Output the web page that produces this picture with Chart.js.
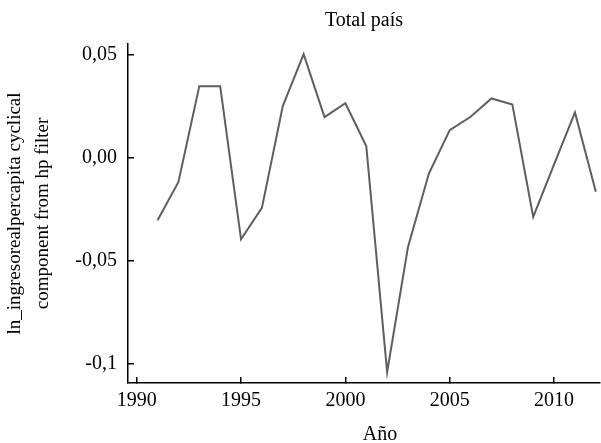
<!DOCTYPE html>
<html>
<head>
<meta charset="utf-8">
<script src="https://cdn.jsdelivr.net/npm/chart.js@4/dist/chart.umd.min.js"></script>
<style>
  html, body { margin: 0; padding: 0; background: #fff; }
  #c { display: block; }
</style>
</head>
<body>
<canvas id="c" width="601" height="443"></canvas>
<script>
const years = [1991, 1992, 1993, 1994, 1995, 1996, 1997, 1998, 1999, 2000, 2001,
               2002, 2003, 2004, 2005, 2006, 2007, 2008, 2009, 2010, 2011, 2012];
const cyclical = [-0.0304, -0.0118, 0.0348, 0.0348, -0.0397, -0.0244, 0.0251, 0.0504,
                  0.0197, 0.0265, 0.0057, -0.1043, -0.0434, -0.0077, 0.0134, 0.0199,
                  0.0288, 0.0259, -0.0288, -0.0033, 0.0220, -0.0166];
const xTickValues = [1990, 1995, 2000, 2005, 2010];
const yTickValues = [-0.1, -0.05, 0, 0.05];
const yTickLabels = ['-0,1', '-0,05', '0,00', '0,05'];
const chartTitle = 'Total país';
const xTitle = 'Año';
const yTitle = ['ln_ingresorealpercapita cyclical', 'component from hp filter'];

const SERIF = "'Liberation Serif', 'Times New Roman', serif";

const xTitlePlugin = {
  id: 'xTitlePlugin',
  afterDraw(chart) {
    const ctx = chart.ctx;
    const a = chart.chartArea;
    ctx.save();
    ctx.font = '20px ' + SERIF;
    ctx.fillStyle = '#000';
    ctx.textAlign = 'center';
    ctx.textBaseline = 'alphabetic';
    ctx.fillText(xTitle, (a.left + a.right) / 2 + 16, 440);
    ctx.restore();
  }
};

new Chart(document.getElementById('c'), {
  type: 'line',
  data: {
    datasets: [{
      data: years.map((y, i) => ({ x: y, y: cyclical[i] })),
      borderColor: '#5e5e5e',
      borderWidth: 2,
      pointRadius: 0,
      tension: 0,
      fill: false
    }]
  },
  options: {
    responsive: false,
    animation: false,
    layout: { padding: { left: 0, right: 1, top: 0, bottom: 0 } },
    plugins: {
      legend: { display: false },
      tooltip: { enabled: false },
      title: {
        display: true,
        text: chartTitle,
        fullSize: false,
        color: '#000',
        font: { family: SERIF, size: 20, weight: 'normal', lineHeight: 1.2 },
        padding: { top: 9, bottom: 11 }
      }
    },
    scales: {
      x: {
        type: 'linear',
        min: 1989.583,
        max: 2012.2,
        afterBuildTicks(scale) { scale.ticks = xTickValues.map(v => ({ value: v })); },
        afterFit(scale) { scale.height = 60; },
        grid: { drawOnChartArea: false, drawTicks: true, tickLength: -6, color: '#000', lineWidth: 1.5 },
        border: { display: true, color: '#000', width: 1.5 },
        ticks: {
          color: '#000',
          font: { family: SERIF, size: 20 },
          padding: 12,
          maxRotation: 0,
          autoSkip: false,
          callback: (v) => String(v)
        },
        title: { display: false }
      },
      y: {
        type: 'linear',
        min: -0.1096,
        max: 0.0553,
        afterBuildTicks(scale) { scale.ticks = yTickValues.map(v => ({ value: v })); },
        afterFit(scale) { scale.width = 128; },
        grid: { drawOnChartArea: false, drawTicks: true, tickLength: -6, color: '#000', lineWidth: 1.5 },
        border: { display: true, color: '#000', width: 1.5 },
        ticks: {
          color: '#000',
          font: { family: SERIF, size: 20 },
          padding: 17,
          autoSkip: false,
          callback: (v) => {
            const i = yTickValues.findIndex(t => Math.abs(t - v) < 1e-9);
            return i >= 0 ? yTickLabels[i] : '';
          }
        },
        title: {
          display: true,
          text: yTitle,
          color: '#000',
          font: { family: SERIF, size: 19, lineHeight: 1.47 },
          padding: { top: 1, bottom: 0 }
        }
      }
    }
  },
  plugins: [xTitlePlugin]
});
</script>
</body>
</html>
